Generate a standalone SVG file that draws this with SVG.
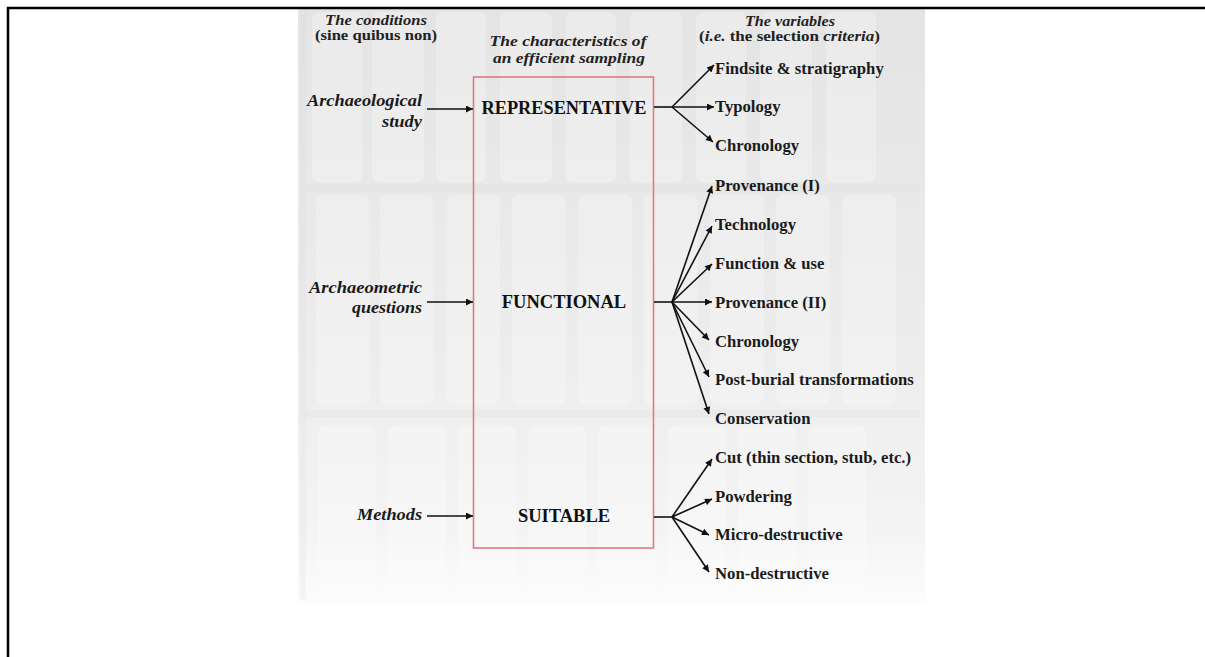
<svg xmlns="http://www.w3.org/2000/svg" width="1205" height="657" viewBox="0 0 1205 657">
  <defs>
    <linearGradient id="bgGrad" x1="0" y1="0" x2="0" y2="1">
      <stop offset="0" stop-color="#e4e4e4"/>
      <stop offset="0.55" stop-color="#ececec"/>
      <stop offset="0.88" stop-color="#f4f4f4"/>
      <stop offset="1" stop-color="#fcfcfc"/>
    </linearGradient>
    <marker id="ah" viewBox="0 0 10 10" refX="10" refY="5" markerWidth="9" markerHeight="7" markerUnits="userSpaceOnUse" orient="auto">
      <path d="M0,0 L10,5 L0,10 z" fill="#111"/>
    </marker>
    <style>
      .hd { font-family: "Liberation Serif", "Times New Roman", serif; font-weight: bold; font-style: italic; font-size: 15px; fill: #222; text-anchor: middle; }
      .hdu { font-family: "Liberation Serif", "Times New Roman", serif; font-weight: bold; font-size: 15px; fill: #222; text-anchor: middle; }
      .cond { font-family: "Liberation Serif", "Times New Roman", serif; font-weight: bold; font-style: italic; font-size: 17.5px; fill: #1a1a1a; text-anchor: end; }
      .mid { font-family: "Liberation Serif", "Times New Roman", serif; font-weight: bold; font-size: 18.5px; fill: #111; text-anchor: middle; }
      .var { font-family: "Liberation Serif", "Times New Roman", serif; font-weight: bold; font-size: 16.7px; fill: #1a1a1a; }
      .ln { stroke: #111; stroke-width: 1.6; fill: none; }
      .arr { stroke: #111; stroke-width: 1.6; fill: none; marker-end: url(#ah); }
      .vial { fill: #ffffff; opacity: 0.25; }
      .vialD { fill: #dadada; opacity: 0.22; }
    </style>
  </defs>

  <rect x="0" y="0" width="1205" height="657" fill="#ffffff"/>

  <g id="photo">
    <rect x="298" y="9" width="627" height="594" fill="url(#bgGrad)"/>
    <rect class="vialD" x="300" y="9" width="6" height="590"/>
    <rect class="vial" x="312" y="12" width="50" height="170" rx="6"/>
    <rect class="vial" x="372" y="12" width="52" height="170" rx="6"/>
    <rect class="vial" x="436" y="12" width="50" height="170" rx="6"/>
    <rect class="vial" x="500" y="12" width="52" height="170" rx="6"/>
    <rect class="vial" x="566" y="12" width="50" height="170" rx="6"/>
    <rect class="vial" x="630" y="12" width="52" height="170" rx="6"/>
    <rect class="vial" x="696" y="12" width="50" height="170" rx="6"/>
    <rect class="vial" x="760" y="12" width="52" height="170" rx="6"/>
    <rect class="vial" x="826" y="12" width="50" height="170" rx="6"/>
    <rect class="vial" x="316" y="195" width="54" height="210" rx="8"/>
    <rect class="vial" x="380" y="195" width="54" height="210" rx="8"/>
    <rect class="vial" x="446" y="195" width="54" height="210" rx="8"/>
    <rect class="vial" x="512" y="195" width="54" height="210" rx="8"/>
    <rect class="vial" x="578" y="195" width="54" height="210" rx="8"/>
    <rect class="vial" x="644" y="195" width="54" height="210" rx="8"/>
    <rect class="vial" x="710" y="195" width="54" height="210" rx="8"/>
    <rect class="vial" x="776" y="195" width="54" height="210" rx="8"/>
    <rect class="vial" x="842" y="195" width="54" height="210" rx="8"/>
    <rect class="vialD" x="305" y="184" width="615" height="8"/>
    <rect class="vialD" x="305" y="409" width="615" height="8"/>
    <rect class="vial" x="318" y="425" width="58" height="170" rx="8"/>
    <rect class="vial" x="388" y="425" width="58" height="170" rx="8"/>
    <rect class="vial" x="458" y="425" width="58" height="170" rx="8"/>
    <rect class="vial" x="528" y="425" width="58" height="170" rx="8"/>
    <rect class="vial" x="598" y="425" width="58" height="170" rx="8"/>
    <rect class="vial" x="668" y="425" width="58" height="170" rx="8"/>
    <rect class="vial" x="738" y="425" width="58" height="170" rx="8"/>
    <rect class="vial" x="808" y="425" width="58" height="170" rx="8"/>
  </g>

  <path d="M8,657 V8 H1205" fill="none" stroke="#000" stroke-width="2.5"/>

  <g id="headings">
    <text class="hd" x="376" y="25" textLength="102" lengthAdjust="spacingAndGlyphs">The conditions</text>
    <text class="hdu" x="376" y="40" textLength="122" lengthAdjust="spacingAndGlyphs">(sine quibus non)</text>
    <text class="hd" x="568" y="45.5" textLength="157" lengthAdjust="spacingAndGlyphs">The characteristics of</text>
    <text class="hd" x="569" y="62.5" textLength="152" lengthAdjust="spacingAndGlyphs">an efficient sampling</text>
    <text class="hd" x="790" y="26" textLength="90" lengthAdjust="spacingAndGlyphs">The variables</text>
    <text class="hdu" x="789.5" y="41" textLength="181" lengthAdjust="spacingAndGlyphs">(<tspan font-style="italic">i.e.</tspan> the selection <tspan font-style="italic">criteria</tspan>)</text>
  </g>

  <g id="cond-archaeological">
    <text class="cond" x="422" y="106" textLength="115" lengthAdjust="spacingAndGlyphs">Archaeological</text>
    <text class="cond" x="422" y="127" textLength="40" lengthAdjust="spacingAndGlyphs">study</text>
  </g>
  <g id="cond-archaeometric">
    <text class="cond" x="422" y="293" textLength="113" lengthAdjust="spacingAndGlyphs">Archaeometric</text>
    <text class="cond" x="422" y="313" textLength="70" lengthAdjust="spacingAndGlyphs">questions</text>
  </g>
  <g id="cond-methods">
    <text class="cond" x="422" y="520" textLength="65" lengthAdjust="spacingAndGlyphs">Methods</text>
  </g>

  <g id="characteristics">
    <rect x="473.5" y="77" width="180" height="471" fill="none" stroke="#e07a84" stroke-width="1.6"/>
    <text class="mid" x="564" y="114" textLength="165" lengthAdjust="spacingAndGlyphs">REPRESENTATIVE</text>
    <text class="mid" x="564" y="308">FUNCTIONAL</text>
    <text class="mid" x="564" y="522">SUITABLE</text>
  </g>

  <g id="variables-representative">
    <text class="var" x="715" y="73.5">Findsite &amp; stratigraphy</text>
    <text class="var" x="715" y="111.5">Typology</text>
    <text class="var" x="715" y="150.5">Chronology</text>
  </g>
  <g id="variables-functional">
    <text class="var" x="715" y="191">Provenance (I)</text>
    <text class="var" x="715" y="230">Technology</text>
    <text class="var" x="715" y="269">Function &amp; use</text>
    <text class="var" x="715" y="307.5">Provenance (II)</text>
    <text class="var" x="715" y="346.5">Chronology</text>
    <text class="var" x="715" y="385">Post-burial transformations</text>
    <text class="var" x="715" y="423.5">Conservation</text>
  </g>
  <g id="variables-suitable">
    <text class="var" x="715" y="463">Cut (thin section, stub, etc.)</text>
    <text class="var" x="715" y="501.5">Powdering</text>
    <text class="var" x="715" y="540">Micro-destructive</text>
    <text class="var" x="715" y="578.5">Non-destructive</text>
  </g>

  <g id="connectors">
    <line class="arr" x1="427" y1="109" x2="473" y2="109"/>
    <line class="arr" x1="427" y1="302" x2="473" y2="302"/>
    <line class="arr" x1="427" y1="516" x2="473" y2="516"/>

    <line class="ln" x1="654" y1="107" x2="672" y2="107"/>
    <line class="arr" x1="672" y1="107" x2="714" y2="65"/>
    <line class="arr" x1="672" y1="107" x2="714" y2="107"/>
    <line class="arr" x1="672" y1="107" x2="713" y2="142"/>

    <line class="ln" x1="654" y1="302" x2="672" y2="302"/>
    <line class="arr" x1="672" y1="302" x2="712" y2="186"/>
    <line class="arr" x1="672" y1="302" x2="712" y2="226"/>
    <line class="arr" x1="672" y1="302" x2="712" y2="264"/>
    <line class="arr" x1="672" y1="302" x2="712" y2="302"/>
    <line class="arr" x1="672" y1="302" x2="709" y2="340"/>
    <line class="arr" x1="672" y1="302" x2="709" y2="377"/>
    <line class="arr" x1="672" y1="302" x2="709" y2="414"/>

    <line class="ln" x1="654" y1="517" x2="672" y2="517"/>
    <line class="arr" x1="672" y1="517" x2="712" y2="459"/>
    <line class="arr" x1="672" y1="517" x2="712" y2="499"/>
    <line class="arr" x1="672" y1="517" x2="709" y2="535"/>
    <line class="arr" x1="672" y1="517" x2="709" y2="572"/>
  </g>
</svg>
